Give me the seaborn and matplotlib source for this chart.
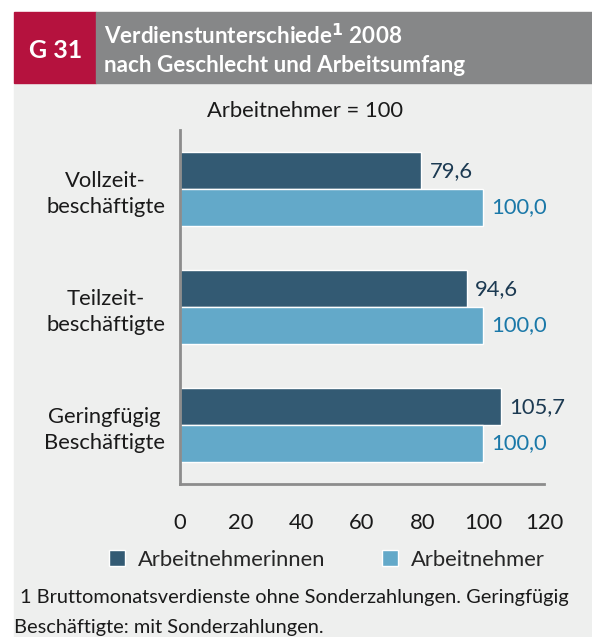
import matplotlib
matplotlib.use('Agg')
import matplotlib.pyplot as plt
from matplotlib.patches import Rectangle
import seaborn as sns
import pandas as pd

# Daten
kategorien = ['Vollzeit-\nbeschäftigte', 'Teilzeit-\nbeschäftigte', 'Geringfügig\nBeschäftigte']
gruppen = ['Arbeitnehmerinnen', 'Arbeitnehmer']
frauen = [79.6, 94.6, 105.7]
maenner = [100.0, 100.0, 100.0]
x_ticks = [0, 20, 40, 60, 80, 100, 120]

df = pd.DataFrame({
    'Kategorie': kategorien * 2,
    'Gruppe': [gruppen[0]] * 3 + [gruppen[1]] * 3,
    'Wert': frauen + maenner,
})

farben = {'Arbeitnehmerinnen': '#335a73', 'Arbeitnehmer': '#63a9c9'}
text_farben = ['#1c3a52', '#1a78a8']

sns.set_theme(style='white')
plt.rcParams['font.family'] = ['Lato', 'DejaVu Sans']

fig = plt.figure(figsize=(5.92, 6.37), dpi=100)
W, H = 592, 637
FS = 15.8

def fx(px):
    return px / W

def fy(py):
    return 1 - py / H

# Hintergrund und Kopfzeile
fig.patches.append(Rectangle((fx(14), 0), 1 - fx(14), fy(83), transform=fig.transFigure,
                             color='#eeefee', zorder=-5))
fig.patches.append(Rectangle((fx(14), fy(83)), fx(96) - fx(14), fy(12) - fy(83),
                             transform=fig.transFigure, color='#b5123e', zorder=-5))
fig.patches.append(Rectangle((fx(96), fy(83)), 1 - fx(96), fy(12) - fy(83),
                             transform=fig.transFigure, color='#868788', zorder=-5))
fig.text(fx(56), fy(50), 'G 31', color='white', fontsize=18, fontweight='bold',
         ha='center', va='center')
fig.text(fx(104), fy(36), 'Verdienstunterschiede$^{\\mathbf{1}}$ 2008', color='white', fontsize=16.2,
         fontweight='bold', ha='left', va='center')
fig.text(fx(104), fy(66), 'nach Geschlecht und Arbeitsumfang', color='white', fontsize=16.2,
         fontweight='bold', ha='left', va='center')
fig.text(fx(305), fy(111), 'Arbeitnehmer = 100', fontsize=FS, color='#1a1a1a',
         ha='center', va='center')

ax = fig.add_axes([fx(180), fy(484), fx(544) - fx(180), fy(130) - fy(484)])
ax.set_facecolor('none')

sns.barplot(data=df, y='Kategorie', x='Wert', hue='Gruppe', orient='h',
            palette=farben, width=0.62, gap=0, saturation=1, ax=ax)

for cont, farbe in zip(ax.containers, text_farben):
    labels = [f'{b.get_width():.1f}'.replace('.', ',') for b in cont]
    ax.bar_label(cont, labels=labels, padding=6, color=farbe, fontsize=FS)

ax.set_xlim(0, 120)
ax.set_ylim(2.5, -0.5)
ax.set_xticks(x_ticks)
ax.set_xticklabels([str(t) for t in x_ticks], fontsize=FS, color='#1a1a1a')
ax.set_yticks([0, 1, 2])
ax.set_yticklabels(kategorien, fontsize=FS, color='#1a1a1a', linespacing=1.35,
                   multialignment='center')
ax.set_yticks([-0.5, 0.5, 1.5, 2.5], minor=True)
ax.tick_params(axis='y', which='major', length=0, pad=10.8)
ax.tick_params(axis='y', which='minor', length=7, width=2, color='#8c8c8c', direction='out')
ax.tick_params(axis='x', length=7, width=2, color='#8c8c8c', direction='out', pad=14)
ax.set_xlabel('')
ax.set_ylabel('')
for s in ['top', 'right']:
    ax.spines[s].set_visible(False)
for s in ['left', 'bottom']:
    ax.spines[s].set_color('#8c8c8c')
    ax.spines[s].set_linewidth(2)

handles, labels = ax.get_legend_handles_labels()
ax.get_legend().remove()
fig.legend(handles, labels, loc='center', bbox_to_anchor=(fx(327), fy(560)), ncol=2,
           frameon=False, fontsize=FS, handlelength=0.75, handleheight=0.75,
           handletextpad=0.6, columnspacing=2.55)

fig.text(fx(20), fy(597), '1 Bruttomonatsverdienste ohne Sonderzahlungen. Geringfügig',
         fontsize=14.4, color='#1a1a1a', ha='left', va='center')
fig.text(fx(14), fy(627), 'Beschäftigte: mit Sonderzahlungen.',
         fontsize=14.4, color='#1a1a1a', ha='left', va='center')

fig.savefig('out.png', dpi=100)
